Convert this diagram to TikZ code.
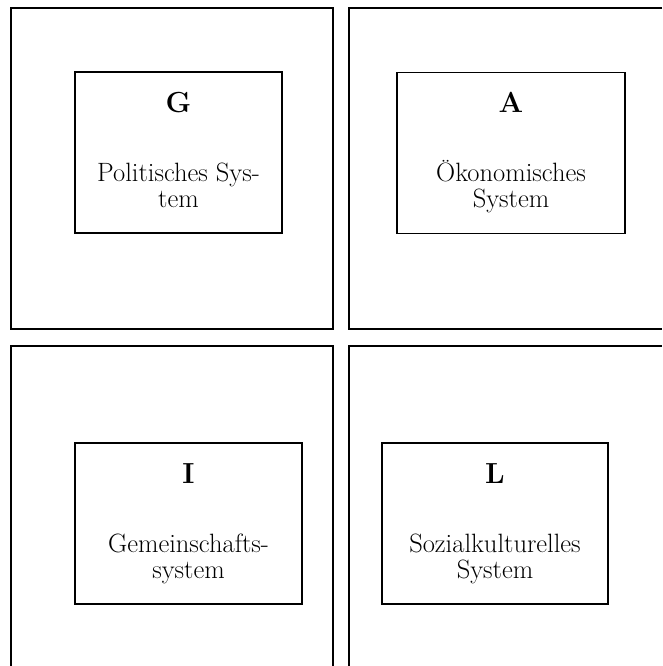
\documentclass[tikz,border=0pt]{standalone}
\usepackage{fontspec}
\begin{document}
\begin{tikzpicture}[x=1pt,y=-1pt,
  frame/.style={draw=black,line width=1.4pt},
  subsys/.style={draw=black,line width=1.4pt,rectangle,inner sep=0pt,minimum height=161pt},
  letter/.style={anchor=base,inner sep=0pt,font=\fontsize{29}{32}\selectfont\bfseries},
  body/.style={anchor=base,inner sep=0pt,font=\fontsize{26.5}{29}\selectfont}]
  \useasboundingbox (0,0) rectangle (662,666);

  % four quadrants of the AGIL scheme
  \draw[frame] (11,8) rectangle (333,329);
  \draw[frame] (662,8) -- (349,8) -- (349,329) -- (662,329);
  \draw[frame] (11,666) -- (11,346) -- (333,346) -- (333,666);
  \draw[frame] (349,666) -- (349,346) -- (662,346);

  % G: goal attainment
  \node[subsys,minimum width=207pt] (g) at (178.5,152.5) {};
  \node[letter] (gl) at ([yshift=-41pt]g.north) {G};
  \node[body] (g1) at ([yshift=-110pt]g.north) {Politisches Sys-};
  \node[body] (g2) at ([yshift=-136pt]g.north) {tem};

  % A: adaptation
  \node[subsys,minimum width=228pt] (a) at (511,153) {};
  \node[letter] (al) at ([yshift=-41pt]a.north) {A};
  \node[body] (a1) at ([yshift=-110pt]a.north) {Ökonomisches};
  \node[body] (a2) at ([yshift=-136pt]a.north) {System};

  % I: integration
  \node[subsys,minimum width=227pt] (i) at (188.5,523.5) {};
  \node[letter] (il) at ([yshift=-41pt]i.north) {I};
  \node[body] (i1) at ([yshift=-110pt]i.north) {Gemeinschafts-};
  \node[body] (i2) at ([yshift=-136pt]i.north) {system};

  % L: latency
  \node[subsys,minimum width=226pt] (l) at (495,523.5) {};
  \node[letter] (ll) at ([yshift=-41pt]l.north) {L};
  \node[body] (l1) at ([yshift=-110pt]l.north) {Sozialkulturelles};
  \node[body] (l2) at ([yshift=-136pt]l.north) {System};
\end{tikzpicture}
\end{document}
